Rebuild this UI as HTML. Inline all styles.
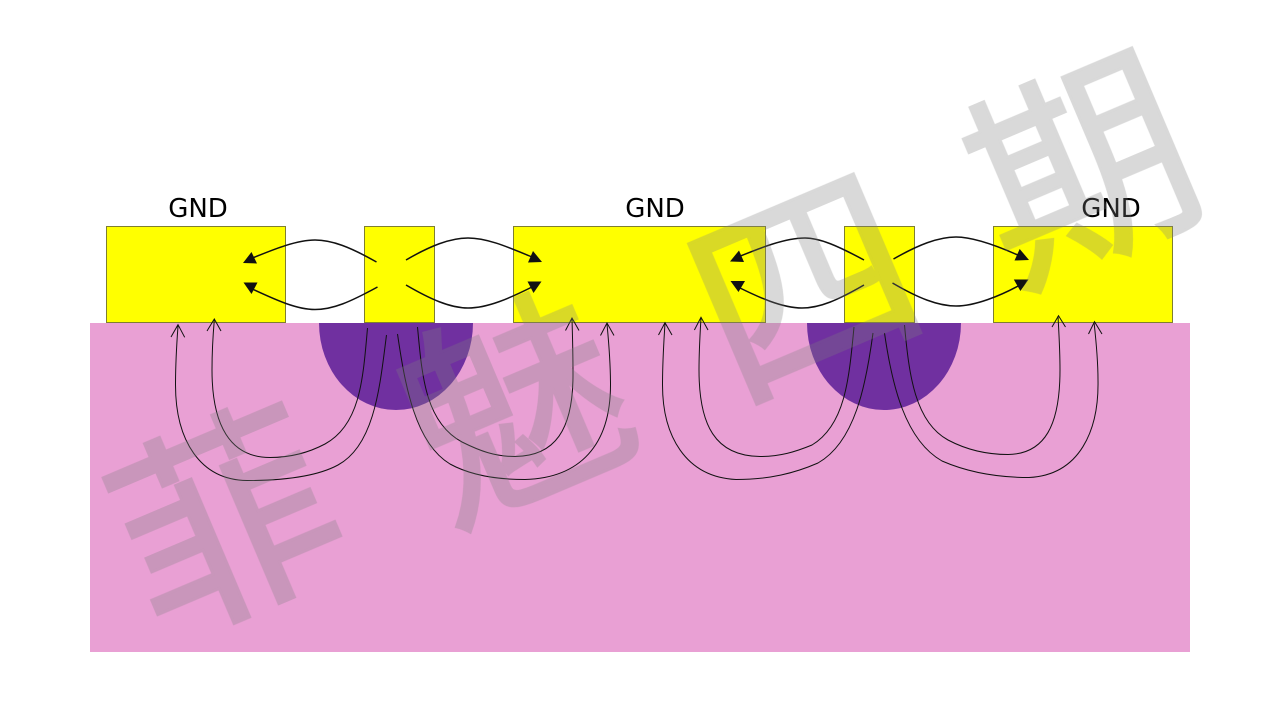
<!DOCTYPE html>
<html><head><meta charset="utf-8"><style>
html,body{margin:0;padding:0;background:#fff}
svg{display:block}
</style></head><body>
<svg width="1280" height="720" viewBox="0 0 1280 720" xmlns="http://www.w3.org/2000/svg">
<rect x="90" y="323" width="1100" height="329" fill="#e9a0d4"/>
<path d="M319,323 A77,87 0 0 0 473,323 Z" fill="#7030a0"/>
<path d="M807,323 A77,87 0 0 0 961,323 Z" fill="#7030a0"/>
<g fill="#ffff00" stroke="#7f7f30" stroke-width="1">
<rect x="106.5" y="226.5" width="179" height="96"/>
<rect x="364.5" y="226.5" width="70" height="96"/>
<rect x="513.5" y="226.5" width="252" height="96"/>
<rect x="844.5" y="226.5" width="70" height="96"/>
<rect x="993.5" y="226.5" width="179" height="96"/>
</g>
<g font-family="'DejaVu Sans',sans-serif" font-size="26" fill="#000" text-anchor="middle">
<text x="198" y="217">GND</text>
<text x="655" y="217">GND</text>
<text x="1111" y="217">GND</text>
</g>
<g fill="none" stroke="#111" stroke-width="1.5">
<path d="M376.500,262 C350,247 332,240 315,240 C295,240 270,251 250,259"/>
<path d="M377.500,287 C350,302 333,309.500 315,309.500 C295,309.500 272,298 250,288"/>
<path d="M406,260 C430,246 450,238 468,238 C488,238 510,248 532,257"/>
<path d="M406,285 C430,299 450,308 468,308 C488,308 510,298 532,287"/>
<path d="M864,260 C838,246 820,238 805,238 C785,238 760,248 738,257"/>
<path d="M864,285 C838,300 820,308 802,308 C782,308 758,297 738,287"/>
<path d="M893.500,259 C918,245 938,237 956,237 C975,237 1000,247 1020,256"/>
<path d="M892.500,283 C918,298 938,306 956,306 C975,306 1000,296 1020,285"/>
</g>
<g fill="#111">
<polygon points="243,263 251.500,252 257,263.500"/>
<polygon points="243.500,282.500 257.500,282.500 251.500,294"/>
<polygon points="542,262 533,251 528,262.500"/>
<polygon points="541.500,281.500 527.500,281.500 533.500,293"/>
<polygon points="730,261.500 739,250.500 744,262"/>
<polygon points="730.500,281 745,281 738.500,292"/>
<polygon points="1029,260 1019.700,249 1014.500,260.500"/>
<polygon points="1028.500,279.500 1013.800,279.500 1020.400,291"/>
</g>
<g fill="none" stroke="#111" stroke-width="1">
<path d="M367.500,328 C363,380 360,425 325,444 C308,453 290,457.500 270,457.500 C230,457.500 212,425 212,370 C212,350 213,335 214.300,320"/>
<path d="M386.500,335 C380,385 375,445 338,465 C318,475.800 285,480.500 247,480.500 C200,480 175.500,440 175.500,385 C175.500,360 177,340 178,326"/>
<path d="M417.500,327 C422,375 425,422 462,442 C480,451 495,456.500 515,456.500 C555,456 573,430 573,375 C573,355 572.500,335 572,319"/>
<path d="M397.500,334 C405,385 415,443 450,464 C470,475 495,479.500 525,479.500 C580,478 610.500,445 610.500,385 C610.500,360 608.500,340 607,324"/>
<path d="M854,327 C849,380 845,425 812,445 C795,452 780,456.500 760,456.500 C715,456 699,425 699,370 C699,350 700,335 701,318"/>
<path d="M873,333 C866,385 855,442 818,463 C795,473 770,479.500 736,479.500 C685,477 662.500,435 662.500,385 C662.500,360 664,340 665,323"/>
<path d="M904.500,325 C909,375 915,422 948,440 C965,449 985,454.500 1008,454.500 C1045,454 1060,425 1060,370 C1060,350 1059,335 1058,316"/>
<path d="M884.500,333 C892,385 905,440 942,461 C965,471 995,477.500 1029,477.500 C1080,475 1099,430 1098,380 C1098,360 1096,340 1094,322"/>
<path d="M207,331 L214.300,319 L221,331"/>
<path d="M171,337 L178,324.700 L184.700,337.300"/>
<path d="M565.500,330.500 L572,318 L579,330.500"/>
<path d="M600.500,335.500 L607,323 L614,335.500"/>
<path d="M694.400,330 L701,317.300 L708,330"/>
<path d="M658.500,335 L665,322.700 L672,335"/>
<path d="M1052,327 L1058.500,315.700 L1065.500,327"/>
<path d="M1088.500,334 L1094.500,321.700 L1102,334"/>
</g>
<g opacity="0.3" font-family="'Liberation Sans','Noto Sans CJK SC',sans-serif" font-size="218" fill="#7f7f7f" stroke="#7f7f7f" stroke-width="3" text-anchor="middle">
<text transform="translate(227,523) rotate(-23)" y="78">菲</text>
<text transform="translate(516,409) rotate(-23)" y="78">魅</text>
<text transform="translate(805,288) rotate(-23)" y="78">四</text>
<text transform="translate(1083,171) rotate(-23)" y="78">期</text>
</g>
</svg>
</body></html>
